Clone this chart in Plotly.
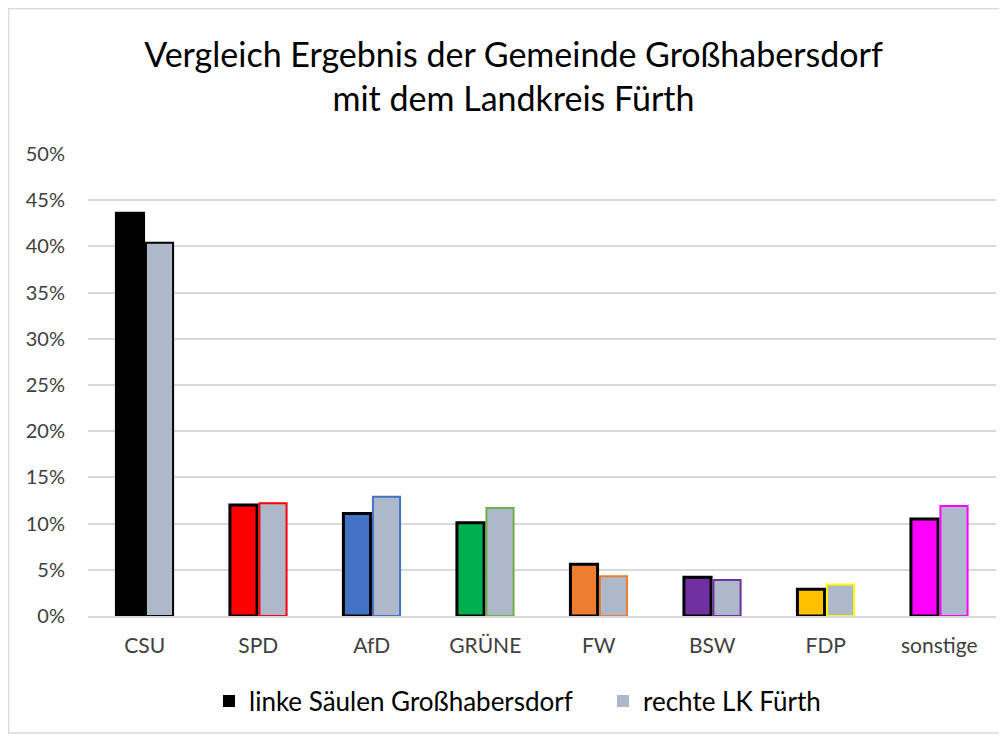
import plotly.graph_objects as go

categories = ["CSU", "SPD", "AfD", "GRÜNE", "FW", "BSW", "FDP", "sonstige"]
gemeinde = [0.436, 0.120, 0.111, 0.101, 0.056, 0.042, 0.029, 0.105]
landkreis = [0.404, 0.122, 0.129, 0.117, 0.043, 0.039, 0.034, 0.119]
party_colors = ["#000000", "#FF0000", "#4472C4", "#00B050", "#ED7D31", "#7030A0", "#FFC000", "#FF00FF"]
outline_right = ["#000000", "#FF0000", "#4472C4", "#70AD47", "#ED7D31", "#7030A0", "#FFFF00", "#FF00FF"]
tick_vals = [0, 0.05, 0.10, 0.15, 0.20, 0.25, 0.30, 0.35, 0.40, 0.45, 0.50]
tick_text = ["0%", "5%", "10%", "15%", "20%", "25%", "30%", "35%", "40%", "45%", "50%"]

W, H = 1007, 736
ML, MR, MT, MB = 80, 19, 146, 128
FONT = "Lato"

fig = go.Figure()
fig.add_trace(go.Bar(
    x=categories, y=gemeinde, name="linke Säulen Großhabersdorf",
    marker=dict(color=party_colors, line=dict(color="#000000", width=3)),
    showlegend=False,
))
fig.add_trace(go.Bar(
    x=categories, y=landkreis, name="rechte LK Fürth",
    marker=dict(color="#ADB9CA", line=dict(color=outline_right, width=2)),
    showlegend=False,
))
# legend entries (on a hidden overlay axis so they don't take group slots)
fig.add_trace(go.Bar(x=[categories[0]], y=[None], name="linke Säulen Großhabersdorf",
                     xaxis="x2", marker=dict(color="#000000", line=dict(width=0))))
fig.add_trace(go.Bar(x=[categories[0]], y=[None], name="rechte LK Fürth",
                     xaxis="x2", marker=dict(color="#ADB9CA", line=dict(width=0))))

pw = W - ML - MR
ph = H - MT - MB
fig.add_shape(type="rect", xref="paper", yref="paper",
              x0=-(ML - 0.5) / pw, x1=1 + (MR - 10) / pw,
              y0=-(MB - 11) / ph, y1=1 + (MT - 0.5) / ph,
              line=dict(color="#D9D9D9", width=1.5), fillcolor="rgba(0,0,0,0)", layer="below")

fig.update_layout(
    width=W, height=H,
    margin=dict(l=ML, r=MR, t=MT, b=MB),
    paper_bgcolor="white", plot_bgcolor="white",
    font=dict(family=FONT, color="#404040"),
    title=dict(text="Vergleich Ergebnis der Gemeinde Großhabersdorf<br>mit dem Landkreis Fürth",
               x=505.5 / W, xref="container", xanchor="center",
               y=1 - 59 / H, yref="container", yanchor="top",
               font=dict(family=FONT, size=34, color="#000000")),
    barmode="group", bargap=0.48, bargroupgap=0.08,
    legend=dict(orientation="h", x=(201 - ML) / pw, xanchor="left", y=(608 - 693) / ph, yanchor="middle",
                font=dict(family=FONT, size=26, color="#000000"), itemwidth=30,
                traceorder="normal", entrywidth=349),
    showlegend=True,
    xaxis2=dict(overlaying="x", visible=False, type="category", matches="x"),
)
fig.update_layout(xaxis=dict(showgrid=False, showline=True, linecolor="#D9D9D9", linewidth=1.5,
                             tickfont=dict(family=FONT, size=21, color="#404040"), ticks="",
                             ticklabelstandoff=10))
fig.update_yaxes(range=[0, 0.5], tickvals=tick_vals, ticktext=tick_text,
                 showgrid=True, gridcolor="#D9D9D9", gridwidth=1.5, zeroline=False,
                 showline=False, tickfont=dict(family=FONT, size=20, color="#404040"),
                 ticklabelstandoff=22)

fig.write_html("out.html")
